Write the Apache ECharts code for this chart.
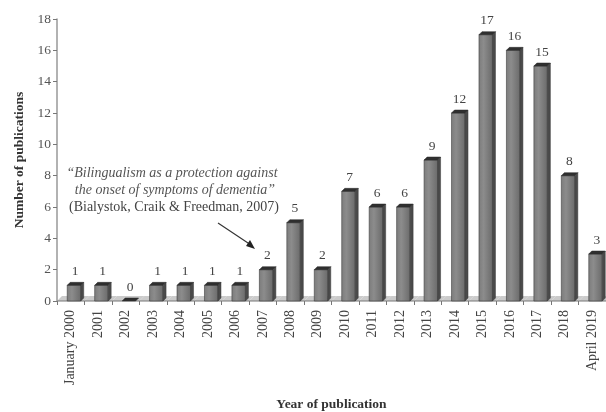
<!DOCTYPE html>
<html>
<head>
<meta charset="utf-8">
<script src="https://cdn.jsdelivr.net/npm/echarts@6/dist/echarts.min.js"></script>
<style>html,body{margin:0;padding:0;background:#fff}#c{width:606px;height:412px}</style>
</head>
<body>
<div id="c"></div>
<script>
var categories = ["January 2000","2001","2002","2003","2004","2005","2006","2007","2008","2009","2010","2011","2012","2013","2014","2015","2016","2017","2018","April 2019"];
var publications = [1,1,0,1,1,1,1,2,5,2,7,6,6,9,12,17,16,15,8,3];
var yTicks = {min:0, max:18, interval:2};

var SERIF = 'Liberation Serif';
var chart = echarts.init(document.getElementById('c'), null, {renderer:'canvas'});

function floorItem(params, api){
  var c = api.coord([api.value(0), 0]);
  var w = api.size([1,0])[0];
  var l = c[0]-w/2, r = c[0]+w/2, y0 = c[1], d = 5;
  return {type:'group', children:[
    {type:'polygon', shape:{points:[[l,y0],[r,y0],[r+d,y0-d],[l+d,y0-d]]}, style:{fill:'#cbcbcb', stroke:null}},
    {type:'line', shape:{x1:l,y1:y0,x2:r,y2:y0}, style:{stroke:'#777', lineWidth:1}}
  ]};
}

function barItem(params, api){
  var v = api.value(1);
  var top = api.coord([api.value(0), v]);
  var base = api.coord([api.value(0), 0]);
  var cx = top[0], yt = top[1], yb = base[1];
  var x1 = cx-3.5, x2 = cx+10, d = 3;
  var kids = [];
  if (v > 0) {
    kids.push({type:'rect', shape:{x:x1, y:yt, width:x2-x1, height:yb-yt},
      style:{fill:new echarts.graphic.LinearGradient(0,0,1,0,[{offset:0,color:'#7c7c7c'},{offset:0.35,color:'#8c8c8c'},{offset:1,color:'#6a6a6a'}]), stroke:'#3c3c3c', lineWidth:0.6}});
    kids.push({type:'polygon', shape:{points:[[x2,yt],[x2+d,yt-d],[x2+d,yb-d],[x2,yb]]}, style:{fill:'#4a4a4a', stroke:'#3a3a3a', lineWidth:0.5}});
  }
  kids.push({type:'polygon', shape:{points:[[x1,yt],[x2,yt],[x2+d,yt-d],[x1+d,yt-d]]}, style:{fill:'#2f2f2f', stroke:'#2a2a2a', lineWidth:0.5}});
  kids.push({type:'text', style:{text:String(v), x:cx+4.5, y:yt-14, align:'center', verticalAlign:'middle', fontFamily:SERIF, fontSize:13.5, fill:'#444'}});
  return {type:'group', children:kids};
}

var data = publications.map(function(v,i){ return [i, v]; });

chart.setOption({
  animation:false,
  grid:{left:57, right:0, top:19, bottom:111, containLabel:false, outerBoundsMode:'none'},
  xAxis:{type:'category', data:categories, boundaryGap:true,
    axisLine:{show:false},
    axisTick:{show:true, length:4, lineStyle:{color:'#777'}},
    axisLabel:{rotate:90, margin:9, fontFamily:SERIF, fontSize:14, color:'#444', interval:0},
    name:'Year of publication', nameLocation:'middle', nameGap:97,
    nameTextStyle:{fontFamily:SERIF, fontWeight:'bold', fontSize:13.5, color:'#333'}},
  yAxis:{type:'value', min:yTicks.min, max:yTicks.max, interval:yTicks.interval,
    splitLine:{show:false},
    axisLine:{show:true, lineStyle:{color:'#999', width:1.5}},
    axisTick:{show:true, length:4, lineStyle:{color:'#777'}},
    axisLabel:{fontFamily:SERIF, fontSize:13.5, color:'#555', margin:6},
    name:'Number of publications', nameLocation:'middle', nameGap:29, nameRotate:90,
    nameTextStyle:{fontFamily:SERIF, fontWeight:'bold', fontSize:13.5, color:'#333'}},
  series:[
    {type:'custom', renderItem:floorItem, data:data, z:1, silent:true},
    {type:'custom', renderItem:barItem, data:data, z:2, silent:true}
  ],
  graphic:[
    {type:'text', x:172, y:173, style:{text:'\u201cBilingualism as a protection against', fontFamily:SERIF, fontStyle:'italic', fontSize:14, fill:'#555', align:'center', verticalAlign:'middle'}},
    {type:'text', x:175, y:190, style:{text:'the onset of symptoms of dementia\u201d', fontFamily:SERIF, fontStyle:'italic', fontSize:14, fill:'#555', align:'center', verticalAlign:'middle'}},
    {type:'text', x:174, y:207, style:{text:'(Bialystok, Craik & Freedman, 2007)', fontFamily:SERIF, fontSize:14, fill:'#444', align:'center', verticalAlign:'middle'}},
    {type:'line', shape:{x1:218, y1:223, x2:251, y2:245}, style:{stroke:'#333', lineWidth:1.2}},
    {type:'polygon', shape:{points:[[255,249],[246,246],[250,240]]}, style:{fill:'#222'}}
  ]
});
</script>
</body>
</html>
